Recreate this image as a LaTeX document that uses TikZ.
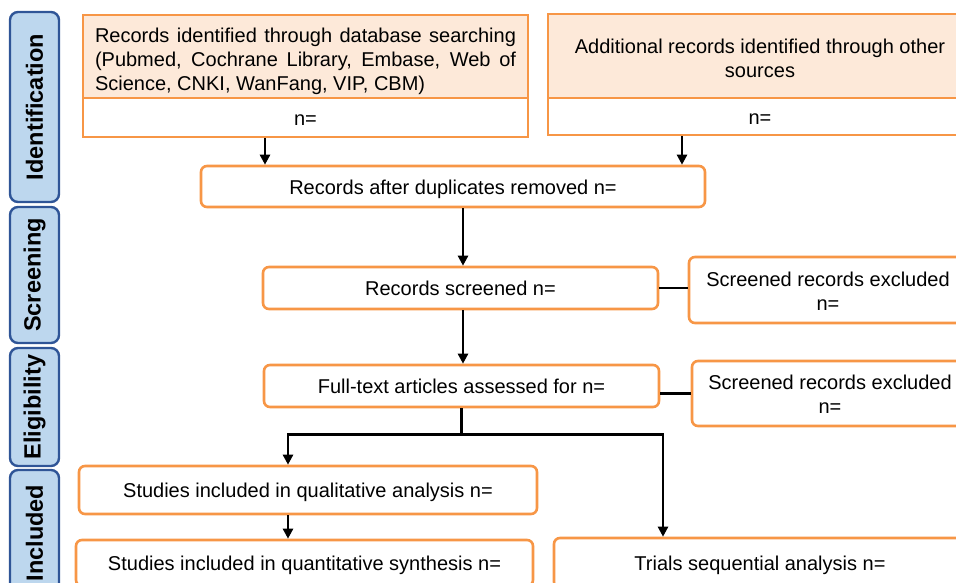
\documentclass[tikz,border=0pt]{standalone}
\usepackage{fontspec}
\setmainfont{Liberation Sans}
\usetikzlibrary{arrows.meta}
\definecolor{orng}{HTML}{F79646}
\definecolor{peach}{HTML}{FDE9D9}
\definecolor{lblue}{HTML}{BDD7EE}
\definecolor{dblue}{HTML}{2F5597}
\begin{document}
\begin{tikzpicture}[x=1pt,y=-1pt,
 box/.style={draw=orng, line width=2.6pt, rounded corners=6pt, fill=white, inner sep=0pt, font=\fontsize{20}{24}\selectfont, align=center, text height=19.8pt, text depth=4.2pt},
 sqbox/.style={box, rounded corners=0pt},
 phase/.style={draw=dblue, fill=lblue, line width=2.4pt, rounded corners=8pt, rotate=90, font=\fontsize{23.5}{28}\selectfont\bfseries, inner sep=0pt, minimum height=49pt},
 arr/.style={line width=2.4pt, -{Triangle[length=10pt,width=10pt]}},
 ln/.style={line width=2.4pt}]
\useasboundingbox (0,0) rectangle (956,582);
\clip (0,0) rectangle (956,582);
% phase labels
\node[phase, minimum width=190pt] (pI) at (34.5,107) {Identification};
\node[phase, minimum width=136pt] (pS) at (34.5,275) {Screening};
\node[phase, minimum width=118pt] (pE) at (34.5,407) {Eligibility};
\node[phase, minimum width=126pt] (pN) at (34.5,533) {Included};
% top boxes
\node[sqbox, text height=71.8pt, fill=peach, minimum width=445pt, minimum height=83pt] (srcA) at (305.5,56.5)
 {\makebox[421pt][s]{Records identified through database searching}\\
  \makebox[421pt][s]{(Pubmed, Cochrane Library, Embase, Web of}\\
  \makebox[421pt][l]{Science, CNKI, WanFang, VIP, CBM)}};
\node[sqbox, minimum width=445pt, minimum height=39pt] (srcAn) at (305.5,117.5) {n=};
\node[sqbox, text height=46.8pt, fill=peach, minimum width=424pt, minimum height=84pt] (srcB) at (760,56)
 {Additional records identified through other\\sources};
\node[sqbox, minimum width=424pt, minimum height=37pt] (srcBn) at (760,116.5) {n=};
% flow boxes
\node[box, minimum width=504pt, minimum height=41pt] (dup) at (453,186.5) {Records after duplicates removed n=};
\node[box, minimum width=395pt, minimum height=42pt] (scr) at (460.5,288) {Records screened n=};
\node[box, text height=44.2pt, minimum width=278pt, minimum height=66pt] (ex1) at (828,290) {Screened records excluded\\n=};
\node[box, minimum width=395pt, minimum height=42pt] (ft) at (461.5,386) {Full-text articles assessed for n=};
\node[box, text height=44.2pt, minimum width=276pt, minimum height=65pt] (ex2) at (830,393.5) {Screened records excluded\\n=};
\node[box, minimum width=458pt, minimum height=48pt] (qual) at (308,490) {Studies included in qualitative analysis n=};
\node[box, minimum width=457pt, minimum height=46pt] (quant) at (304.5,563) {Studies included in quantitative synthesis n=};
\node[box, minimum width=412pt, minimum height=50pt] (trials) at (760,563) {Trials sequential analysis n=};
% connectors
\draw[arr] ([xshift=-40.5pt]srcAn.south) -- ([xshift=-40.5pt]srcAn.south |- dup.north);
\draw[arr] ([xshift=-78pt]srcBn.south) -- ([xshift=-78pt]srcBn.south |- dup.north);
\draw[arr] ([xshift=10pt]dup.south) -- ([xshift=10pt]dup.south |- scr.north);
\draw[arr] ([xshift=2.5pt]scr.south) -- ([xshift=2.5pt]scr.south |- ft.north);
\draw[ln] (scr.east) -- (scr.east -| ex1.west);
\draw[ln] (ft.east |- ex2.west) -- (ex2.west);
\draw[ln] (ft.south) -- ++(0,26) coordinate (br);
\draw[arr] (br) -| ([xshift=-20pt]qual.north);
\draw[arr] (br) -| ([xshift=-97pt]trials.north);
\draw[arr] ([xshift=-20pt]qual.south) -- ([xshift=-20pt]qual.south |- quant.north);
\end{tikzpicture}
\end{document}
